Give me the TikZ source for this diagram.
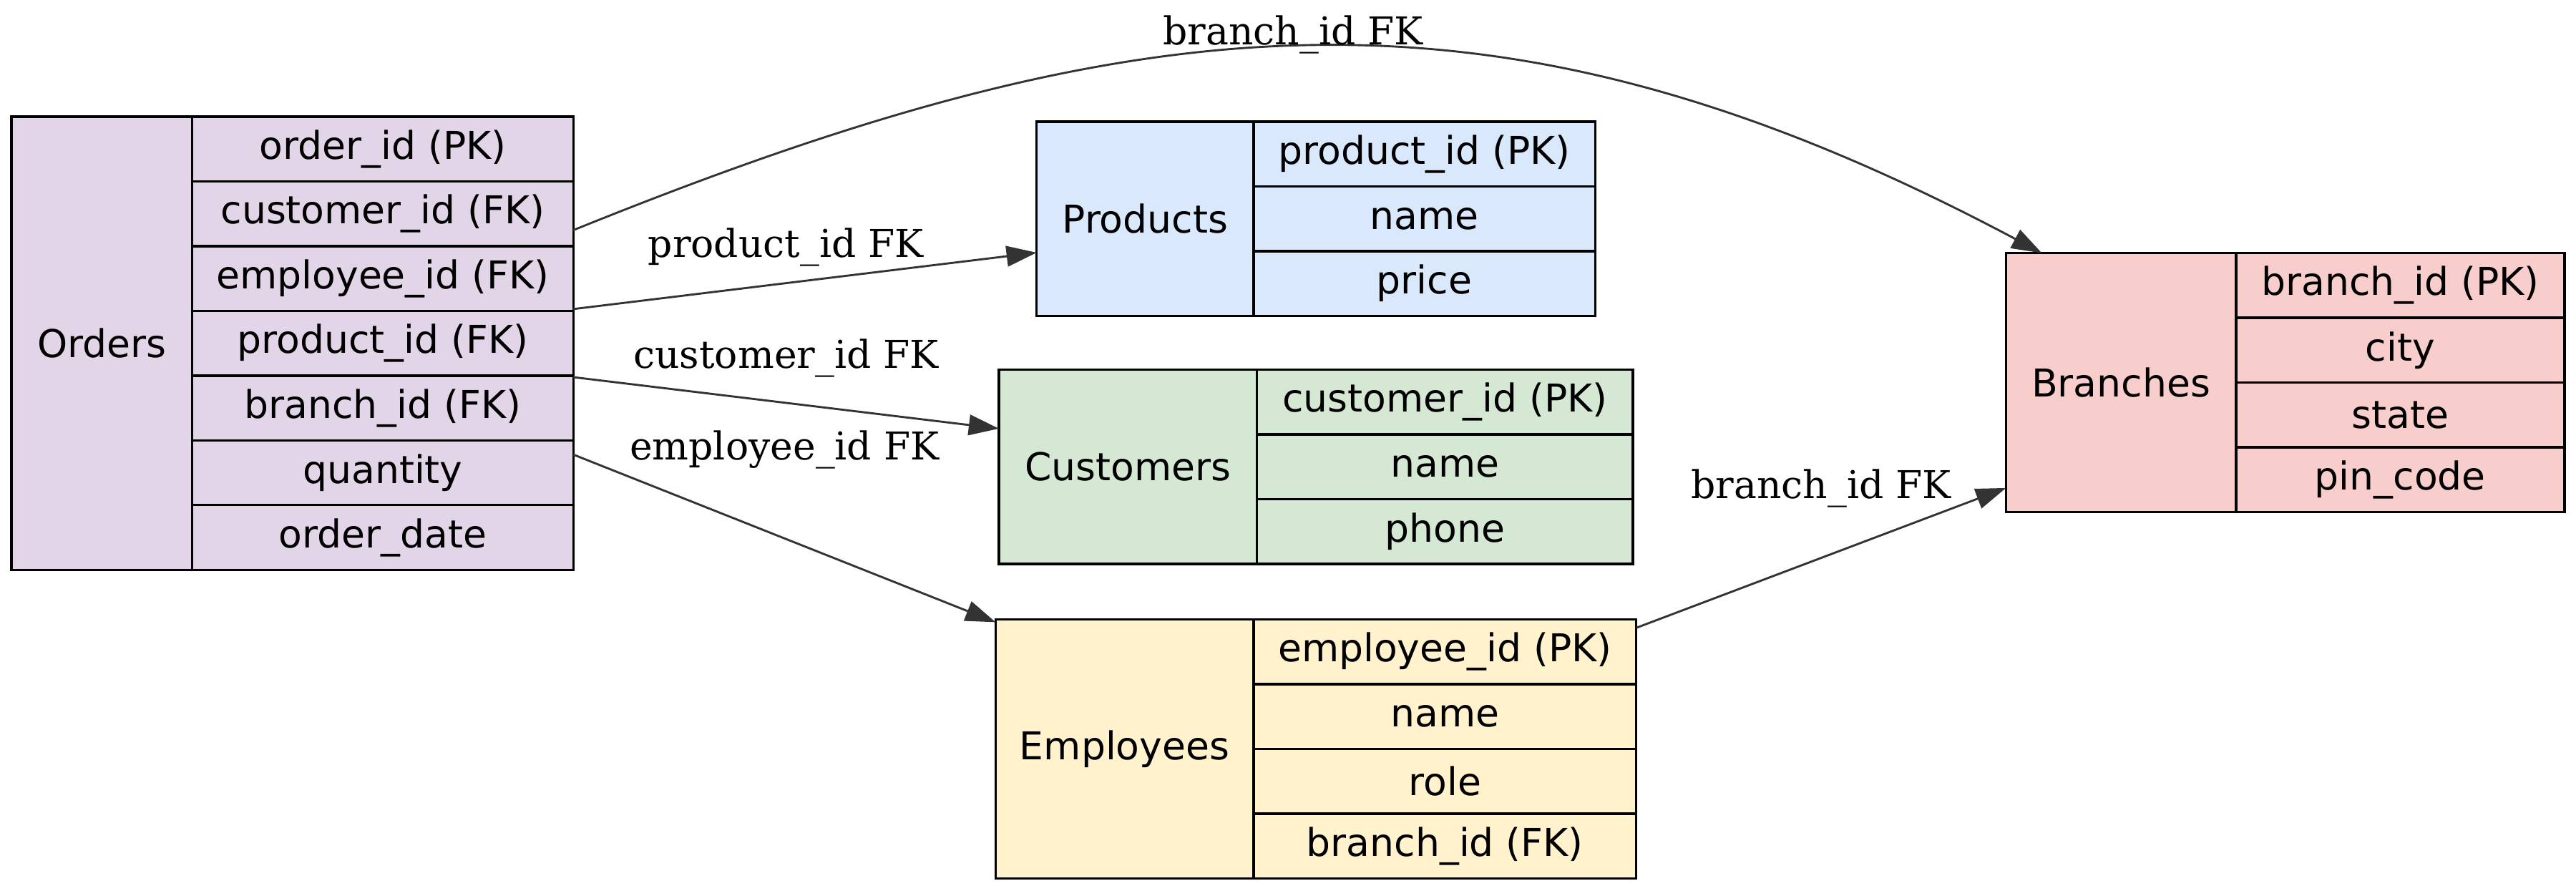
\documentclass[tikz,border=0pt]{standalone}
\usepackage{fontspec}
\setmainfont{DejaVu Serif}
\setsansfont{DejaVu Sans}
\usetikzlibrary{positioning,fit,arrows.meta}
\definecolor{OrdFill}{HTML}{E1D5E7}
\definecolor{ProdFill}{HTML}{DAE8FC}
\definecolor{CustFill}{HTML}{D5E8D4}
\definecolor{EmpFill}{HTML}{FFF2CC}
\definecolor{BrFill}{HTML}{F8CECC}
\definecolor{EdgeGrey}{HTML}{333333}
\tikzset{cell/.style={draw=black,line width=0.9pt,outer sep=0pt,inner sep=0pt,font=\sffamily\fontsize{14}{16}\selectfont},
tname/.style={cell,anchor=north west},
fld/.style={cell,minimum height=23.64pt},
tbl/.style={inner sep=0pt,outer sep=0pt},
fk/.style={draw=EdgeGrey,line width=0.75pt,-{Triangle[length=11pt,width=7.5pt]}},
fklab/.style={font=\fontsize{14}{16}\selectfont,inner sep=1pt,text=black}}

\begin{document}
\begin{tikzpicture}[x=0.6pt,y=0.6pt]
\useasboundingbox (0,0) rectangle (1568,542);
% Orders
\node[tname,fill=OrdFill,minimum width=66pt,minimum height=165.48pt] (ordt) at (7,471) {Orders};
\tikzset{ordf/.style={fld,fill=OrdFill,minimum width=139.2pt}}
\node[ordf,anchor=north west] (ord1) at (ordt.north east) {order\_id (PK)};
\node[ordf,below=0pt of ord1] (ord2) {customer\_id (FK)};
\node[ordf,below=0pt of ord2] (ord3) {employee\_id (FK)};
\node[ordf,below=0pt of ord3] (ord4) {product\_id (FK)};
\node[ordf,below=0pt of ord4] (ord5) {branch\_id (FK)};
\node[ordf,below=0pt of ord5] (ord6) {quantity};
\node[ordf,below=0pt of ord6] (ord7) {order\_date};
\node[tbl,fit=(ordt)(ord7)] (orders) {};
% Products
\node[tname,fill=ProdFill,minimum width=79.2pt,minimum height=70.92pt] (prt) at (631,468) {Products};
\tikzset{prf/.style={fld,fill=ProdFill,minimum width=124.8pt}}
\node[prf,anchor=north west] (pr1) at (prt.north east) {product\_id (PK)};
\node[prf,below=0pt of pr1] (pr2) {name};
\node[prf,below=0pt of pr2] (pr3) {price};
\node[tbl,fit=(prt)(pr3)] (products) {};
% Customers
\node[tname,fill=CustFill,minimum width=94.2pt,minimum height=70.92pt] (cut) at (608,317) {Customers};
\tikzset{cuf/.style={fld,fill=CustFill,minimum width=137.4pt}}
\node[cuf,anchor=north west] (cu1) at (cut.north east) {customer\_id (PK)};
\node[cuf,below=0pt of cu1] (cu2) {name};
\node[cuf,below=0pt of cu2] (cu3) {phone};
\node[tbl,fit=(cut)(cu3)] (customers) {};
% Employees
\node[tname,fill=EmpFill,minimum width=94.2pt,minimum height=94.56pt] (emt) at (606,165) {Employees};
\tikzset{emf/.style={fld,fill=EmpFill,minimum width=139.8pt}}
\node[emf,anchor=north west] (em1) at (emt.north east) {employee\_id (PK)};
\node[emf,below=0pt of em1] (em2) {name};
\node[emf,below=0pt of em2] (em3) {role};
\node[emf,below=0pt of em3] (em4) {branch\_id (FK)};
\node[tbl,fit=(emt)(em4)] (employees) {};
% Branches
\node[tname,fill=BrFill,minimum width=84pt,minimum height=94.56pt] (brt) at (1221,388) {Branches};
\tikzset{brf/.style={fld,fill=BrFill,minimum width=120pt}}
\node[brf,anchor=north west] (br1) at (brt.north east) {branch\_id (PK)};
\node[brf,below=0pt of br1] (br2) {city};
\node[brf,below=0pt of br2] (br3) {state};
\node[brf,below=0pt of br3] (br4) {pin\_code};
\node[tbl,fit=(brt)(br4)] (branches) {};
% foreign keys
\draw[fk] (orders) to[out=22,in=152,looseness=1.07] node[fklab,above=-4pt,xshift=-9pt]{branch\_id FK} (branches);
\draw[fk] (orders) -- node[fklab,above=4pt,xshift=-7pt]{product\_id FK} (products);
\draw[fk] (orders) -- node[fklab,above=8pt]{customer\_id FK} (customers);
\draw[fk] (orders) -- node[fklab,above=24pt]{employee\_id FK} (employees);
\draw[fk] (employees) -- node[fklab,above=17pt]{branch\_id FK} (branches);
\end{tikzpicture}
\end{document}
